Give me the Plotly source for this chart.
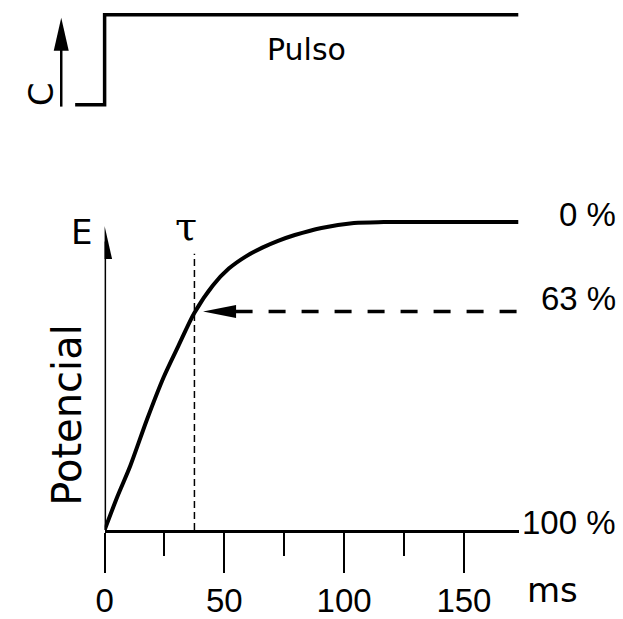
import plotly.graph_objects as go

W, H = 623, 619

# ---- data ----
t_ms = [0, 5.35, 10.70, 17.70, 24.69, 30.86, 37.45, 45.27, 51.85, 58.85, 65.84,
        72.43, 79.42, 90.53, 104.1, 116.5, 172.8]
potential = [0, 0.109, 0.208, 0.359, 0.497, 0.599, 0.705, 0.795, 0.849, 0.888, 0.917,
             0.939, 0.958, 0.981, 0.997, 1.0, 1.0]
pulse_t = [-12.3, 0, 0, 172.8]
pulse_c = [0, 0, 1, 1]
tau_ms = 37.5
level_63 = 0.71
x_ticks = [0, 50, 100, 150]
level_labels = ["0 %", "63 %", "100 %"]
level_values = [1.0, level_63, 0.0]

# ---- helpers (pixel -> paper) ----
def px(x):
    return x / W

def py(y):
    return 1 - y / H

X_MAX = 172.8
NUM_FONT = "Liberation Sans, Arial"
TXT_FONT = "DejaVu Sans, Verdana"

fig = go.Figure()

# response curve
fig.add_trace(go.Scatter(x=t_ms, y=potential, mode="lines",
                         line=dict(color="black", width=4, shape="spline", smoothing=0.8),
                         xaxis="x", yaxis="y", hoverinfo="skip", showlegend=False))
# pulse
fig.add_trace(go.Scatter(x=pulse_t, y=pulse_c, mode="lines",
                         line=dict(color="black", width=3.5),
                         xaxis="x2", yaxis="y2", hoverinfo="skip", showlegend=False))

fig.update_layout(
    width=W, height=H, margin=dict(l=0, r=0, t=0, b=0),
    paper_bgcolor="white", plot_bgcolor="white", showlegend=False,
    xaxis=dict(domain=[px(97), px(517)], range=[0, X_MAX], anchor="y",
               showline=True, linecolor="black", linewidth=2.5,
               showgrid=False, zeroline=False,
               tickmode="array", tickvals=x_ticks, ticktext=[str(v) for v in x_ticks],
               ticks="outside", ticklen=40, tickwidth=2, tickcolor="black",
               minor=dict(ticks="outside", dtick=25, tick0=0, ticklen=23, tickwidth=2, tickcolor="black"),
               tickfont=dict(family=NUM_FONT, size=33, color="black")),
    yaxis=dict(domain=[py(537), py(537 - 1.1 * 312)], range=[0, 1.1], anchor="x",
               visible=False),
    xaxis2=dict(domain=[px(60), px(517)], range=[-15.23, X_MAX], anchor="y2", visible=False),
    yaxis2=dict(domain=[py(115.1), py(5.9)], range=[-0.1, 1.1], anchor="x2", visible=False),
)

shapes = []
# E axis line and arrowhead
E_TIP = (537 - 229) / 312
shapes.append(dict(type="line", xref="x", yref="y", x0=0, x1=0, y0=0, y1=E_TIP - 0.05,
                   line=dict(color="black", width=3)))
shapes.append(dict(type="path", xref="x", yref="y", xsizemode="pixel", ysizemode="pixel",
                   xanchor=0, yanchor=E_TIP, path="M0,0 L-7.5,-33 L7.5,-33 Z",
                   fillcolor="black", line=dict(width=0)))
# tau vertical dashed line
shapes.append(dict(type="line", xref="x", yref="y", x0=tau_ms, x1=tau_ms, y0=0, y1=0.897,
                   line=dict(color="black", width=1.5, dash="7px,4px")))
# 63% arrow
tip_ms = tau_ms + 3.6
shapes.append(dict(type="path", xref="x", yref="y", xsizemode="pixel", ysizemode="pixel",
                   xanchor=tip_ms, yanchor=level_63, path="M0,0 L33,6.5 L33,-6.5 Z",
                   fillcolor="black", line=dict(width=0)))
shapes.append(dict(type="line", xref="x", yref="y", x0=tip_ms + 33 / 2.43, x1=X_MAX,
                   y0=level_63, y1=level_63,
                   line=dict(color="black", width=3.5, dash="17px,16px")))
# C arrow (top panel)
shapes.append(dict(type="line", xref="paper", yref="paper", x0=px(53), x1=px(53),
                   y0=py(108), y1=py(48), line=dict(color="black", width=2.5)))
shapes.append(dict(type="path", xref="paper", yref="paper", xsizemode="pixel", ysizemode="pixel",
                   xanchor=px(53), yanchor=py(18), path="M0,0 L-7.5,-33 L7.5,-33 Z",
                   fillcolor="black", line=dict(width=0)))
fig.update_layout(shapes=shapes)

ann = []
def text(x, y, s, size, family=TXT_FONT, angle=0, xanchor="center"):
    ann.append(dict(x=px(x), y=py(y), xref="paper", yref="paper", text=s, showarrow=False,
                    textangle=angle, xanchor=xanchor, yanchor="middle",
                    font=dict(family=family, size=size, color="black")))

text(302, 50, "Pulso", 30)
text(32, 96, "C", 34, angle=-90)
text(74, 235, "E", 34)
text(180, 229, "τ", 40, family="DejaVu Serif, serif")
text(58, 420, "Potencial", 40, angle=-90)
text(551, 598, "ms", 34)
label_px = [217, 302, 529]
for lab, yy in zip(level_labels, label_px):
    text(618, yy, lab, 33, family=NUM_FONT, xanchor="right")
fig.update_layout(annotations=ann)

fig.write_html("out.html", config={"displayModeBar": False},
               post_script="document.body.style.margin='0';document.documentElement.style.overflow='hidden';")
